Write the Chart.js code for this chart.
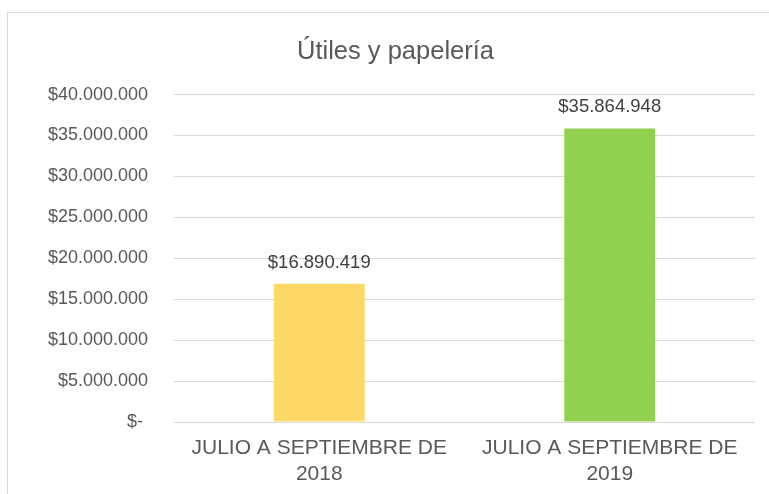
<!DOCTYPE html>
<html>
<head>
<meta charset="utf-8">
<script src="https://cdn.jsdelivr.net/npm/chart.js@4.4.1/dist/chart.umd.min.js"></script>
<style>
    body { margin: 0; background: #fff; overflow: hidden; }
    #frame { position: absolute; left: 7px; top: 12px; width: 800px; height: 520px; border: 1px solid #d9d9d9; }
    #chart { position: absolute; left: 0; top: 0; }
</style>
</head>
<body>
<div id="frame"></div>
<canvas id="chart" width="769" height="494"></canvas>
<script>
// Data
const categories = [
    ["JULIO A SEPTIEMBRE DE", "2018"],
    ["JULIO A SEPTIEMBRE DE", "2019"]
];
const values = [16890419, 35864948];
const barColors = ["#FFD966", "#92D050"];
const yTicks = [0, 5000000, 10000000, 15000000, 20000000, 25000000, 30000000, 35000000, 40000000];

function money(v) {
    if (v === 0) return "$- ";
    return "$" + String(Math.round(v)).replace(/\B(?=(\d{3})+(?!\d))/g, ".");
}

// draws values above bars
const barLabels = {
    id: "barLabels",
    afterDatasetsDraw(chart) {
        const ctx = chart.ctx;
        ctx.save();
        ctx.font = "18.5px 'Liberation Sans', Arial, sans-serif";
        ctx.fillStyle = "#404040";
        ctx.textAlign = "center";
        ctx.textBaseline = "alphabetic";
        chart.getDatasetMeta(0).data.forEach((bar, i) => {
            ctx.fillText(money(values[i]), bar.x, bar.y - 16);
        });
        ctx.restore();
    }
};

document.addEventListener("DOMContentLoaded", () => {
    const ctx = document.getElementById("chart").getContext("2d");
    new Chart(ctx, {
        type: "bar",
        data: {
            labels: categories,
            datasets: [{
                data: values,
                backgroundColor: barColors,
                barPercentage: 0.313,
                categoryPercentage: 1
            }]
        },
        options: {
            responsive: false,
            animation: false,
            devicePixelRatio: 1,
            // left padding shifts the title so it is centred on the whole frame
            layout: { padding: { left: 36, right: 14, top: 0, bottom: 0 } },
            plugins: {
                legend: { display: false },
                tooltip: { enabled: false },
                title: {
                    display: true,
                    text: "Útiles y papelería",
                    color: "#595959",
                    font: { family: "'Liberation Sans', Arial, sans-serif", size: 25.5, weight: "normal" },
                    padding: { top: 37, bottom: 27 }
                }
            },
            scales: {
                x: {
                    grid: { display: false, drawTicks: false },
                    border: { display: false },
                    ticks: {
                        color: "#595959",
                        padding: 14,
                        maxRotation: 0,
                        font: { family: "'Liberation Sans', Arial, sans-serif", size: 21, lineHeight: 1.2 }
                    },
                    afterFit(scale) { scale.height = 72; }
                },
                y: {
                    min: 0,
                    max: 40000000,
                    afterBuildTicks(scale) { scale.ticks = yTicks.map(v => ({ value: v })); },
                    grid: { color: "#d9d9d9", lineWidth: 1, drawTicks: false },
                    border: { display: false },
                    ticks: {
                        color: "#595959",
                        padding: 26,
                        font: { family: "'Liberation Sans', Arial, sans-serif", size: 18 },
                        callback: v => money(v)
                    },
                    afterFit(scale) { scale.width = 138; }
                }
            }
        },
        plugins: [barLabels]
    });
});
</script>
</body>
</html>
